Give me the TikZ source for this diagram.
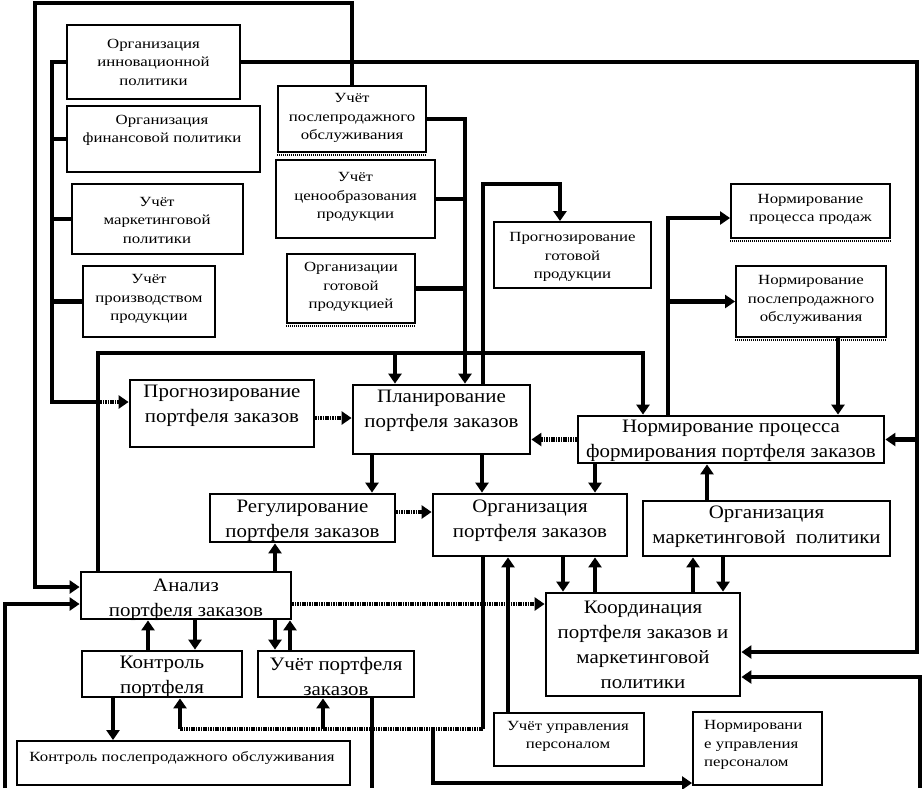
\documentclass[tikz,border=0pt]{standalone}
\usepackage{fontspec}
\setmainfont{Liberation Serif}
\newfontfamily\sfnt[FakeStretch=1.2]{Liberation Serif}
\newfontfamily\bfnt[FakeStretch=1.1]{Liberation Serif}
\usetikzlibrary{arrows.meta}
\newcommand\mkbox[6]{\node[#2, minimum width={(#4)-(#3)}, minimum height={(#6)-(#5)}] (#1) at ({((#3)+(#4))/2},{((#5)+(#6))/2}) {};}
\begin{document}
\begin{tikzpicture}[x=1pt,y=-1pt,
 bx/.style={draw, line width=2.8pt, inner sep=0pt, rectangle},
 sbx/.style={draw, line width=1.9pt, inner sep=0pt, rectangle},
 btxt/.style={font=\bfnt\fontsize{19}{25}\selectfont, align=center, inner sep=0pt},
 stxt/.style={font=\sfnt\fontsize{14}{18.5}\selectfont, align=center, inner sep=0pt},
 conn/.style={line width=4.4pt, line join=miter},
 dconn/.style={line width=4.4pt, dash pattern=on 1.6pt off 0.8pt},
 tip/.style={-{Triangle[width=13pt,length=10pt]}},
 shadowline/.style={line width=2pt, dash pattern=on 1.2pt off 0.8pt}
]
\useasboundingbox (0,0) rectangle (923,788);
% boxes
\mkbox{inn}{sbx}{67}{240}{25}{99}
\mkbox{fin}{sbx}{67}{260}{106}{172}
\mkbox{mark}{sbx}{72}{243}{184}{254}
\mkbox{proizv}{sbx}{83}{215}{266}{337}
\mkbox{posle}{sbx}{278}{426}{86}{152}
\mkbox{cena}{sbx}{276}{435}{160}{238}
\mkbox{gotov}{sbx}{287}{415}{254}{323}
\mkbox{prgot}{sbx}{494}{651}{222}{288}
\mkbox{nprod}{sbx}{731}{890}{184}{238}
\mkbox{nposle}{sbx}{736}{886}{266}{337}
\mkbox{prport}{bx}{130}{314}{380}{447}
\mkbox{plan}{bx}{353}{530}{385}{454}
\mkbox{nform}{bx}{578}{884}{416}{463}
\mkbox{reg}{bx}{210}{395}{494}{542}
\mkbox{orgport}{bx}{433}{627}{494}{556}
\mkbox{orgmark}{bx}{643}{890}{501}{556}
\mkbox{anal}{bx}{81}{291}{572}{619}
\mkbox{koord}{bx}{546}{740}{593}{696}
\mkbox{kontr}{bx}{82}{242}{651}{697}
\mkbox{uchport}{bx}{258}{414}{651}{697}
\mkbox{kposle}{sbx}{17}{350}{741}{785}
\mkbox{uchpers}{sbx}{494}{644}{713}{766}
\mkbox{normpers}{sbx}{693}{822}{712}{785}
\foreach \b in {posle,gotov,nprod,nposle}
  \draw[shadowline] ([yshift=-2.5pt]\b.south west) -- ([yshift=-2.5pt]\b.south east);
% texts
\node[stxt] (t-inn) at (153.5,62) {Организация\\инновационной\\политики};
\node[stxt] (t-fin) at (162,130.5) {Организация\\финансовой политики};
\node[stxt] (t-mark) at (157,220) {Учёт\\маркетинговой\\политики};
\node[stxt] (t-proizv) at (149,299) {Учёт\\производством\\продукции};
\node[stxt] (t-posle) at (352,118) {Учёт\\послепродажного\\обслуживания};
\node[stxt] (t-cena) at (355.5,197) {Учёт\\ценообразования\\продукции};
\node[stxt] (t-gotov) at (351,287) {Организации\\готовой\\продукцией};
\node[stxt] (t-prgot) at (572.5,257) {Прогнозирование\\готовой\\продукции};
\node[stxt] (t-nprod) at (810.5,209.5) {Нормирование\\процесса продаж};
\node[stxt] (t-nposle) at (811,300) {Нормирование\\послепродажного\\обслуживания};
\node[btxt] (t-prport) at (222,406) {Прогнозирование\\портфеля заказов};
\node[btxt] (t-plan) at (441.5,411) {Планирование\\портфеля заказов};
\node[btxt] (t-nform) at (731,440.5) {Нормирование процесса\\формирования портфеля заказов};
\node[btxt] (t-reg) at (302.5,521) {Регулирование\\портфеля заказов};
\node[btxt] (t-orgport) at (530,521) {Организация\\портфеля заказов};
\node[btxt] (t-orgmark) at (766.5,526.5) {Организация\\маркетинговой~ политики};
\node[btxt] (t-anal) at (186,599.5) {Анализ\\портфеля заказов};
\node[btxt] (t-koord) at (643,645) {Координация\\портфеля заказов и\\маркетинговой\\политики};
\node[btxt] (t-kontr) at (162,676.5) {Контроль\\портфеля};
\node[btxt] (t-uchport) at (336,676.5) {Учёт портфеля\\заказов};
\node[stxt] (t-kposle) at (182,758) {Контроль послепродажного обслуживания};
\node[stxt] (t-uchpers) at (568,736.5) {Учёт управления\\персоналом};
\node[stxt, align=left, anchor=west] (t-normpers) at (704,745) {Нормировани\\е управления\\персоналом};
% C1
\coordinate (tl) at (35,3);
\draw[conn,tip] (posle.north) |- (tl) |- ([yshift=8.5pt]anal.west);
% C2
\coordinate (lb) at (52,402);
\coordinate (lbd) at (98,402);
\draw[conn] (inn.west) -| (lb) -- (lbd);
\draw[dconn,tip] (lbd) -- (lbd -| prport.west);
\foreach \b in {fin,mark,proizv} \draw[conn] (\b.west) -- (\b.west -| lb);
% C3
\coordinate (rb) at (917,652);
\draw[conn,tip] (inn.east) -| (rb) -- (rb -| koord.east);
\draw[conn,tip] (nform.east -| rb) -- (nform.east);
% C4
\coordinate (br) at (920,788);
\coordinate (br2) at (920,677);
\draw[conn,tip] (br) -- (br2) -- (br2 -| koord.east);
% C5
\coordinate (v5) at (465,385);
\draw[conn,tip] (posle.east) -| (v5 |- plan.north);
\draw[conn] (cena.east) -- (cena.east -| v5);
\draw[conn] (gotov.east) -- (gotov.east -| v5);
% C6
\coordinate (p6a) at (483,385);
\coordinate (p6b) at (560,184);
\draw[conn,tip] (p6a |- plan.north) |- (p6b) -- (p6b |- prgot.north);
% C7
\coordinate (p7a) at (98,353);
\coordinate (p7b) at (643,353);
\coordinate (p7c) at (395,353);
\draw[conn,tip] (p7a |- anal.north) -- (p7a) -- (p7b) -- (p7b |- nform.north);
\draw[conn,tip] (p7c) -- (p7c |- plan.north);
% C8
\coordinate (p8) at (668,218);
\draw[conn,tip] (p8 |- nform.north) -- (p8) -- (p8 -| nprod.west);
\draw[conn,tip] (p8 |- nposle.west) -- (nposle.west);
% C9
\coordinate (p9) at (838,300);
\draw[conn,tip] (p9 |- nposle.south) -- (p9 |- nform.north);
% C10
\coordinate (p10) at (0,418);
\draw[dconn,tip] (prport.east |- p10) -- (plan.west |- p10);
% C11
\draw[dconn,tip] (nform.west) -- (nform.west -| plan.east);
% C12
\coordinate (p12) at (372,0);
\draw[conn,tip] (p12 |- plan.south) -- (p12 |- reg.north);
% C13
\coordinate (p13) at (482,0);
\draw[conn,tip] (p13 |- plan.south) -- (p13 |- orgport.north);
% C14
\coordinate (p14) at (595,0);
\draw[conn,tip] (p14 |- nform.south) -- (p14 |- orgport.north);
% C15
\coordinate (p15) at (0,512);
\draw[dconn,tip] (reg.east |- p15) -- (orgport.west |- p15);
% C16
\coordinate (p16) at (707,0);
\draw[conn,tip] (p16 |- orgmark.north) -- (p16 |- nform.south);
% C17
\coordinate (p17) at (275,0);
\draw[conn,tip] (p17 |- anal.north) -- (p17 |- reg.south);
% C18
\coordinate (p18) at (0,604);
\draw[dconn,tip] (anal.east |- p18) -- (koord.west |- p18);
% C19
\coordinate (p19a) at (563,0); \coordinate (p19b) at (595,0);
\draw[conn,tip] (p19a |- orgport.south) -- (p19a |- koord.north);
\draw[conn,tip] (p19b |- koord.north) -- (p19b |- orgport.south);
% C20
\coordinate (p20a) at (693,0); \coordinate (p20b) at (723,0);
\draw[conn,tip] (p20a |- koord.north) -- (p20a |- orgmark.south);
\draw[conn,tip] (p20b |- orgmark.south) -- (p20b |- koord.north);
% C21
\coordinate (p21a) at (483,729);
\coordinate (p21b) at (180,729);
\coordinate (p21c) at (323,729);
\coordinate (p21d) at (433,729);
\coordinate (p21e) at (433,783);
\draw[conn] (p21a |- orgport.south) -- (p21a);
\draw[dconn] (p21a) -- (p21b);
\draw[conn,tip] (p21b) -- (p21b |- kontr.south);
\draw[conn,tip] (p21c) -- (p21c |- uchport.south);
\draw[conn,tip] (p21d) -- (p21e) -- (p21e -| normpers.west);
% C22
\coordinate (p22) at (508,0);
\draw[conn,tip] (p22 |- uchpers.north) -- (p22 |- orgport.south);
% C23
\coordinate (p23a) at (148,0); \coordinate (p23b) at (195,0);
\draw[conn,tip] (p23a |- kontr.north) -- (p23a |- anal.south);
\draw[conn,tip] (p23b |- anal.south) -- (p23b |- kontr.north);
% C24
\coordinate (p24a) at (275,0); \coordinate (p24b) at (290,0);
\draw[conn,tip] (p24a |- anal.south) -- (p24a |- uchport.north);
\draw[conn,tip] (p24b |- uchport.north) -- (p24b |- anal.south);
% C25
\coordinate (p25) at (113,0);
\draw[conn,tip] (p25 |- kontr.south) -- (p25 |- kposle.north);
% C26
\coordinate (p26) at (372,788);
\draw[conn] (p26 |- uchport.south) -- (p26);
% C27
\coordinate (p27) at (5,788);
\draw[conn,tip] (p27) |- ([yshift=-8.5pt]anal.west);
\end{tikzpicture}
\end{document}
